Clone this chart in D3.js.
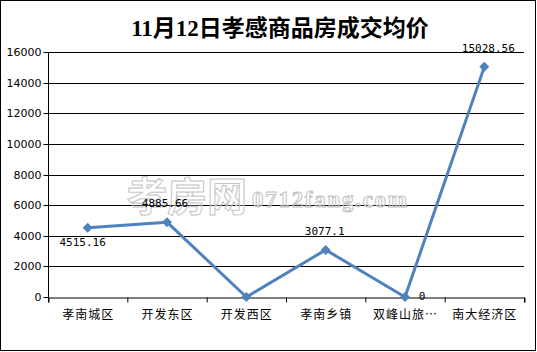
<!DOCTYPE html>
<html><head><meta charset="utf-8">
<script src="https://cdn.jsdelivr.net/npm/d3@7"></script>
<style>body{margin:0;background:#fff}svg{display:block}</style>
</head><body>
<svg id="c" width="537" height="352"></svg>
<script>
const title = "11月12日孝感商品房成交均价";
const categories = ["孝南城区","开发东区","开发西区","孝南乡镇","双峰山旅…","南大经济区"];
const values = [4515.16, 4885.66, 0, 3077.1, 0, 15028.56];
const valueLabels = ["4515.16","4885.66","","3077.1","0","15028.56"];
const yTicks = [0,2000,4000,6000,8000,10000,12000,14000,16000];

const svg = d3.select("#c");
svg.append("rect").attr("x",0.5).attr("y",0.5).attr("width",535).attr("height",350)
  .attr("fill","#fff").attr("stroke","#000").attr("stroke-width",1);

const m = {l:48, r:524, t:52, b:297};
const x = d3.scaleBand().domain(categories).range([m.l, m.r]);
const y = d3.scaleLinear().domain([0,16000]).range([m.b, m.t]);

// title
svg.append("text").attr("x",280).attr("y",36).attr("text-anchor","middle")
  .attr("font-family","'Liberation Serif','Noto Sans CJK SC',serif").attr("font-weight","bold")
  .attr("font-size",23).attr("fill","#000").text(title);

// gridlines
svg.append("g").selectAll("line").data(yTicks.filter(d=>d>0)).join("line")
  .attr("x1",m.l).attr("x2",m.r).attr("y1",d=>Math.round(y(d))+0.5).attr("y2",d=>Math.round(y(d))+0.5)
  .attr("stroke","#000").attr("stroke-width",1);

// y axis
const ya = d3.axisLeft(y).tickValues(yTicks).tickSize(5).tickFormat(d=>d);
const gy = svg.append("g").attr("transform",`translate(${m.l+0.5},0.5)`).call(ya);
gy.select(".domain").attr("stroke","#000").attr("d",`M0,${m.t}V${m.b}`);
gy.selectAll(".tick line").attr("stroke","#000");
gy.selectAll(".tick text").attr("font-family","'DejaVu Sans','Noto Sans CJK SC',sans-serif")
  .attr("font-size",11).attr("fill","#000").attr("x",-7);
gy.selectAll(".tick").attr("transform",d=>`translate(0,${Math.round(y(d))})`);

// x axis
const xa = d3.axisBottom(x).tickSize(5).tickSizeOuter(5);
const gx = svg.append("g").attr("transform",`translate(0.5,${m.b+0.5})`).call(xa);
gx.select(".domain").attr("stroke","#000");
gx.selectAll(".tick line").attr("stroke","#000").attr("transform",`translate(${-x.bandwidth()/2},0)`);
gx.append("line").attr("x1",m.r).attr("x2",m.r).attr("y1",0).attr("y2",5).attr("stroke","#000");
gx.selectAll(".tick text").attr("font-family","'Noto Sans CJK SC',sans-serif")
  .attr("font-size",12).attr("fill","#000").attr("y",11).attr("dy","0.9em")
  .attr("letter-spacing",1);

// line
const cx = d => x(d) + x.bandwidth()/2;
const line = d3.line().x((d,i)=>cx(categories[i])).y(d=>y(d));
svg.append("path").datum(values).attr("d",line).attr("fill","none")
  .attr("stroke","#4F81BD").attr("stroke-width",3).attr("stroke-linejoin","round");
svg.append("g").selectAll("path").data(values).join("path")
  .attr("d",d3.symbol(d3.symbolSquare,50)())
  .attr("transform",(d,i)=>`translate(${cx(categories[i])},${y(d)}) rotate(45)`)
  .attr("fill","#4F81BD");

// watermark (outline)
svg.append("text").attr("x",127).attr("y",211)
  .attr("font-family","'Noto Sans CJK SC',sans-serif").attr("font-size",40).attr("font-weight","bold")
  .attr("fill","#fff").attr("fill-opacity",0.25).attr("stroke","#c4c4c4").attr("stroke-width",1).text("孝房网");
svg.append("text").attr("x",252).attr("y",207)
  .attr("font-family","'Liberation Serif',serif").attr("font-size",23).attr("font-weight","bold")
  .attr("textLength",155)
  .attr("fill","#fff").attr("fill-opacity",0.25).attr("stroke","#c4c4c4").attr("stroke-width",1).text("0712fang.com");

// labels
const lblPos = [[-5,14],[-2,-19],[0,0],[-1,-19],[17,-1],[4,-19]];
svg.append("g").selectAll("text").data(values).join("text")
  .attr("x",(d,i)=>cx(categories[i])+lblPos[i][0])
  .attr("y",(d,i)=>y(d)+lblPos[i][1])
  .attr("dy","0.35em").attr("text-anchor","middle")
  .attr("font-family","'DejaVu Sans Mono','Liberation Mono',monospace").attr("font-size",11)
  .attr("fill","#000").text((d,i)=>valueLabels[i]);
</script>
</body></html>
